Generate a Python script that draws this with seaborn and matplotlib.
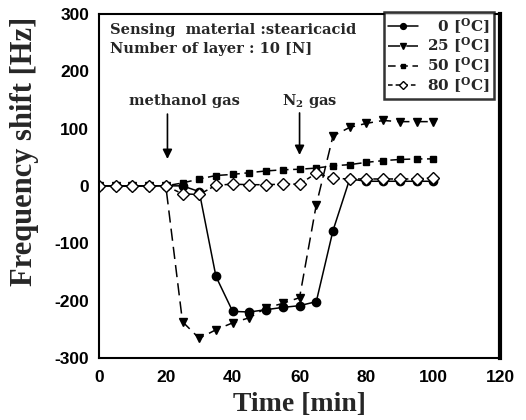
import numpy as np
import pandas as pd
import matplotlib
matplotlib.use("Agg")
import matplotlib.pyplot as plt
import seaborn as sns

time = [0, 5, 10, 15, 20, 25, 30, 35, 40, 45, 50, 55, 60, 65, 70, 75, 80, 85, 90, 95, 100]
t0 = [0, 0, 0, 0, 0, 0, -10, -158, -219, -220, -216, -212, -209, -202, -78, 12, 8, 8, 8, 8, 8]
t25 = [0, 0, 0, 0, 0, -237, -266, -251, -239, -230, -213, -205, -195, -33, 87, 102, 109, 114, 112, 112, 112]
t50 = [0, 0, 0, 0, 0, 5, 12, 18, 20, 23, 26, 28, 29, 31, 35, 37, 41, 44, 46, 47, 47]
t80 = [0, 0, 0, 0, 0, -14, -15, 1, 3, 2, 2, 3, 3, 22, 13, 12, 12, 12, 12, 12, 14]
labels = ["0", "25", "50", "80"]
series = [t0, t25, t50, t80]

sns.set_theme(style="white")
plt.rcParams['font.family'] = ['Liberation Serif', 'DejaVu Serif']
plt.rcParams['axes.unicode_minus'] = False
plt.rcParams['mathtext.fontset'] = 'custom'
plt.rcParams['mathtext.rm'] = 'DejaVu Serif:bold'
plt.rcParams['mathtext.bf'] = 'DejaVu Serif:bold'
plt.rcParams['mathtext.it'] = 'DejaVu Serif:bold'

fig = plt.figure(figsize=(5.26, 4.2), dpi=100)
ax = fig.add_axes([0.188, 0.148, 0.763, 0.819])

styles = [
    dict(marker='o', linestyle='-', mfc='black', ms=6),
    dict(marker='v', linestyle=(0, (8, 4)), mfc='black', ms=6),
    dict(marker='s', linestyle=(0, (5, 3)), mfc='black', ms=5),
    dict(marker='D', linestyle=(0, (3, 2)), mfc='white', ms=6),
]
for lab, vals, st in zip(labels, series, styles):
    df = pd.DataFrame({"Time": time, "Shift": vals})
    sns.lineplot(data=df, x="Time", y="Shift", ax=ax, color='black', lw=1.1,
                 marker=st['marker'], linestyle=st['linestyle'],
                 markerfacecolor=st['mfc'], markeredgecolor='black',
                 markersize=st['ms'], markeredgewidth=1.0,
                 label=("\u2007" if len(lab) == 1 else "") + lab + r" [$^{\mathrm{O}}$C]")

ax.set_xlim(0, 120)
ax.set_ylim(-300, 300)
ax.set_xticks([0, 20, 40, 60, 80, 100, 120])
ax.set_yticks([-300, -200, -100, 0, 100, 200, 300])
for lbl in ax.get_xticklabels() + ax.get_yticklabels():
    lbl.set_fontfamily('Liberation Sans')
    lbl.set_fontweight('bold')
    lbl.set_fontsize(12.5)
ax.tick_params(direction='in', length=3, width=1, colors='black')
ax.tick_params(axis='x', pad=9)
ax.tick_params(axis='y', pad=7)
ax.set_xlabel("Time [min]", fontsize=20, fontweight='bold', labelpad=5)
ax.set_ylabel("Frequency shift [Hz]", fontsize=22, fontweight='bold')
ax.yaxis.set_label_coords(-0.15, 0.60)
for side, sp in ax.spines.items():
    sp.set_color('black')
    sp.set_linewidth(1.5)
ax.spines['right'].set_linewidth(3)

afont = dict(family='DejaVu Serif', fontweight='bold', fontsize=10.5)
ax.text(3.3, 272, "Sensing  material :stearicacid", va='center', **afont)
ax.text(3.3, 239, "Number of layer : 10 [N]", va='center', **afont)

ax.annotate("", xy=(20.5, 42), xytext=(20.5, 130),
            arrowprops=dict(arrowstyle='-|>', color='black', lw=1.2, mutation_scale=14))
ax.text(25.5, 148, "methanol gas", ha='center', va='center', **afont)
ax.annotate("", xy=(60, 49), xytext=(60, 132),
            arrowprops=dict(arrowstyle='-|>', color='black', lw=1.2, mutation_scale=14))
ax.text(63, 148, r"N$_2$ gas", ha='center', va='center', **afont)

leg = ax.legend(loc='upper right', frameon=True, handlelength=2.0, markerscale=0.7,
                prop=dict(family='DejaVu Serif', weight='bold', size=11),
                handletextpad=0.6, borderpad=0.25, labelspacing=0.0,
                borderaxespad=0.0, fancybox=False, bbox_to_anchor=(0.985, 1.005))
leg.get_frame().set_edgecolor('black')
leg.get_frame().set_linewidth(1.8)

fig.savefig("out.png", dpi=100)
